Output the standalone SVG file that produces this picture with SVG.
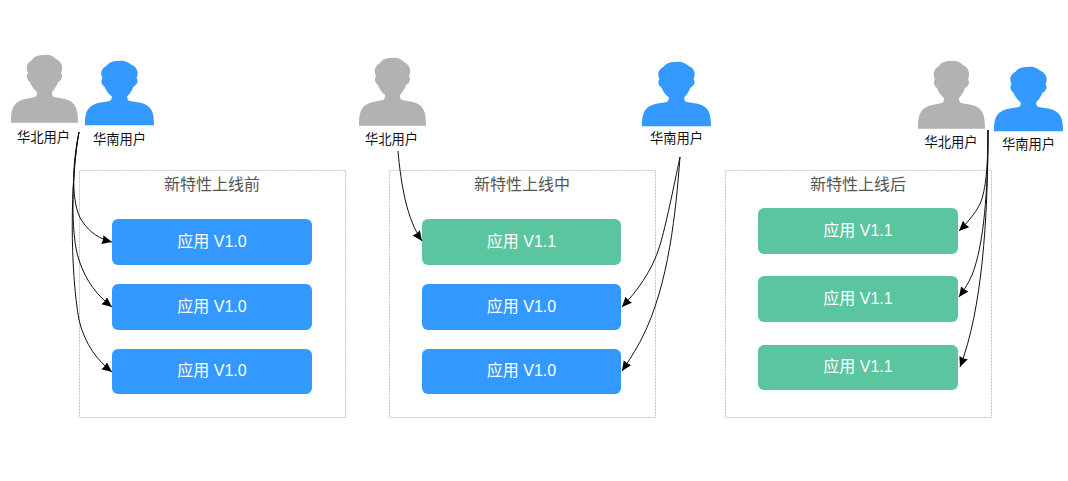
<svg xmlns="http://www.w3.org/2000/svg" width="1068" height="481" viewBox="0 0 1068 481">
  <style>
    text { font-family: "Liberation Sans", "Noto Sans CJK SC", sans-serif; text-anchor: middle; }
    .user { font-size: 13.300px; fill: #111; }
    .title { font-size: 16px; fill: #555; }
    .app { font-size: 16px; fill: #fff; }
    .frame { fill: #fff; stroke: #c4c4c4; stroke-width: 1; stroke-dasharray: 2 1; }
    .old { fill: #3399ff; }
    .new { fill: #5bc5a0; }
    .link { fill: none; stroke: #111; stroke-width: 1; marker-end: url(#tip); }
  </style>
  <defs>
    <marker id="tip" markerUnits="userSpaceOnUse" markerWidth="13" markerHeight="11" refX="10" refY="4.500" orient="auto">
      <path d="M0 0 L10 4.500 L0 9 L0.800 4.500 Z" fill="#000"/>
    </marker>
    <path id="person" d="M0 67.700 C0 54 2 47 14 44 L24 42 C26 41 26 39 26 37 C22 34 20 30 19 27 C16 25 15 21 17 18 C14 12 17 7 21 5 C24 0 30 0 33 0 C38 -1 42 1 45 4 C50 6 53 12 50 18 C52 21 51 25 47 27 C46 30 44 34 41 37 C41 39 41 41 43 42 L54 44 C65 47 67 54 67 67.700 Z"/>
  </defs>

  <g id="frame-before">
    <rect class="frame" x="79.500" y="170.500" width="266" height="247"/>
    <text class="title" x="212" y="190">新特性上线前</text>
  </g>
  <g id="frame-during">
    <rect class="frame" x="389.500" y="170.500" width="266" height="247"/>
    <text class="title" x="522" y="190">新特性上线中</text>
  </g>
  <g id="frame-after">
    <rect class="frame" x="725.500" y="170.500" width="266" height="247"/>
    <text class="title" x="858" y="190">新特性上线后</text>
  </g>

  <g id="app-a1"><rect class="old" x="112" y="219" width="200" height="46" rx="6"/><text class="app" x="212" y="247">应用 V1.0</text></g>
  <g id="app-a2"><rect class="old" x="112" y="284" width="200" height="46" rx="6"/><text class="app" x="212" y="312">应用 V1.0</text></g>
  <g id="app-a3"><rect class="old" x="112" y="349" width="200" height="45" rx="6"/><text class="app" x="212" y="376">应用 V1.0</text></g>

  <g id="app-b1"><rect class="new" x="422" y="219" width="199" height="46" rx="6"/><text class="app" x="521.500" y="247">应用 V1.1</text></g>
  <g id="app-b2"><rect class="old" x="422" y="284" width="199" height="46" rx="6"/><text class="app" x="521.500" y="312">应用 V1.0</text></g>
  <g id="app-b3"><rect class="old" x="422" y="349" width="199" height="45" rx="6"/><text class="app" x="521.500" y="376">应用 V1.0</text></g>

  <g id="app-c1"><rect class="new" x="758" y="208" width="200" height="46" rx="6"/><text class="app" x="858" y="236">应用 V1.1</text></g>
  <g id="app-c2"><rect class="new" x="758" y="276" width="200" height="46" rx="6"/><text class="app" x="858" y="304">应用 V1.1</text></g>
  <g id="app-c3"><rect class="new" x="758" y="345" width="200" height="45" rx="6"/><text class="app" x="858" y="372">应用 V1.1</text></g>

  <g id="user-north-1"><use href="#person" x="11" y="55" fill="#b2b2b2"/><text class="user" x="43.500" y="142">华北用户</text></g>
  <g id="user-south-1"><use href="#person" transform="translate(85 61) scale(1.03 0.95)" fill="#3399ff"/><text class="user" x="119.500" y="144">华南用户</text></g>
  <g id="user-north-2"><use href="#person" x="359" y="58" fill="#b2b2b2"/><text class="user" x="391.500" y="144">华北用户</text></g>
  <g id="user-south-2"><use href="#person" transform="translate(642 62) scale(1.03 0.95)" fill="#3399ff"/><text class="user" x="676.500" y="143">华南用户</text></g>
  <g id="user-north-3"><use href="#person" x="918" y="61" fill="#b2b2b2"/><text class="user" x="951" y="147">华北用户</text></g>
  <g id="user-south-3"><use href="#person" transform="translate(994 67) scale(1.03 0.95)" fill="#3399ff"/><text class="user" x="1028.500" y="149">华南用户</text></g>

  <g id="connectors">
    <path class="link" d="M79 132 C72 165 71 205 82 221 C90 233 100 239 112 242"/>
    <path class="link" d="M79 132 C72 170 70 235 79 260 C86 282 98 296 112 307"/>
    <path class="link" d="M79 132 C70 180 70 270 79 320 C85 345 98 361 112 372"/>
    <path class="link" d="M398 151 C401 185 407 220 422 241"/>
    <path class="link" d="M680 157 C673 190 666 225 660 245 C652 272 636 292 622 307"/>
    <path class="link" d="M680 157 C676 210 669 285 642 338 C636 350 628 362 622 371"/>
    <path class="link" d="M988 130 C988 165 986 190 980 204 C975 214 966 224 959 231"/>
    <path class="link" d="M988 130 C988 190 984 245 972 275 C968 284 964 290 959 297"/>
    <path class="link" d="M988 130 C988 220 982 310 960 367"/>
  </g>
</svg>
